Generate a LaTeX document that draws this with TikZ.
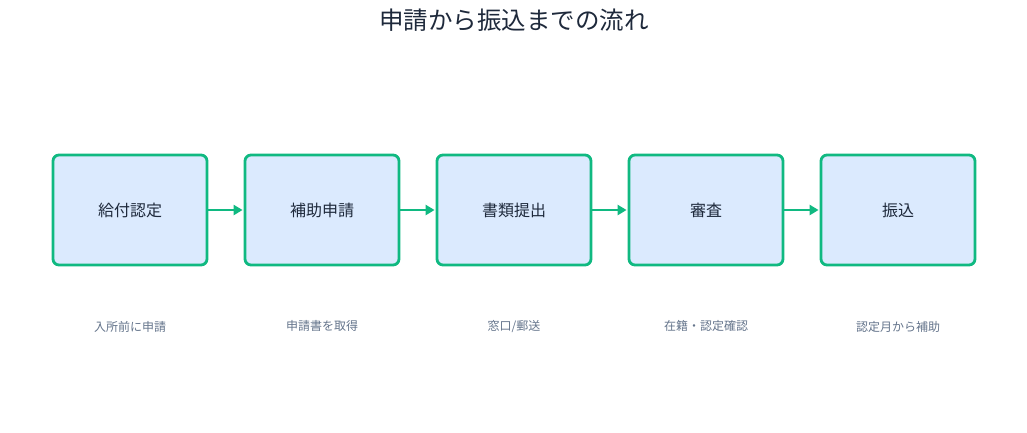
\documentclass[tikz,border=0pt]{standalone}
\usepackage{fontspec}
\setmainfont{Noto Sans CJK JP}
\usetikzlibrary{arrows.meta}
\definecolor{boxfill}{HTML}{DBEAFE}
\definecolor{boxline}{HTML}{10B981}
\definecolor{maintext}{HTML}{1E293B}
\definecolor{subtext}{HTML}{64748B}
\tikzset{
  stepbox/.style={draw=boxline, line width=2.8pt, fill=boxfill, rounded corners=6pt,
    minimum width=154pt, minimum height=110pt, inner sep=0pt,
    font=\fontsize{16}{19}\selectfont, text=maintext},
  note/.style={font=\fontsize{12}{14}\selectfont, text=subtext, inner sep=0pt},
  flow/.style={draw=boxline, line width=2.8pt, -{Triangle[length=9pt,width=10pt]}, shorten >=1pt}
}
\begin{document}
\begin{tikzpicture}[x=1pt,y=1pt]
\useasboundingbox (0,0) rectangle (1027,-432);
\node[font=\fontsize{24.5}{28}\selectfont, text=maintext] (title) at (514,-20) {申請から振込までの流れ};
\node[stepbox] (s1) at (130,-210) {給付認定};
\node[stepbox] (s2) at (322,-210) {補助申請};
\node[stepbox] (s3) at (514,-210) {書類提出};
\node[stepbox] (s4) at (706,-210) {審査};
\node[stepbox] (s5) at (898,-210) {振込};
\node[note] (n1) at (130,-327) {入所前に申請};
\node[note] (n2) at (322,-326) {申請書を取得};
\node[note] (n3) at (514,-327) {窓口/郵送};
\node[note] (n4) at (706,-326) {在籍・認定確認};
\node[note] (n5) at (898,-327) {認定月から補助};
\draw[flow] (s1) -- (s2);
\draw[flow] (s2) -- (s3);
\draw[flow] (s3) -- (s4);
\draw[flow] (s4) -- (s5);
\end{tikzpicture}
\end{document}
